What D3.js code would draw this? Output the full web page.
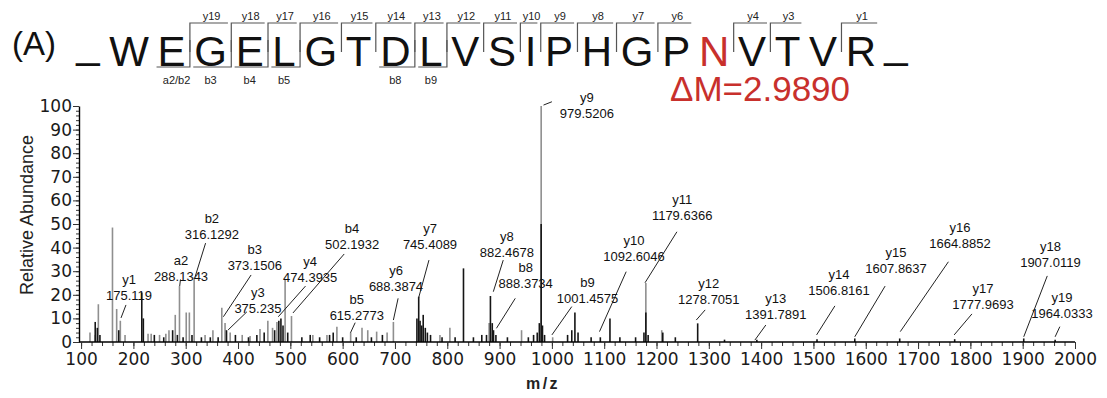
<!DOCTYPE html>
<html>
<head>
<meta charset="utf-8">
<script src="https://cdn.jsdelivr.net/npm/d3@7"></script>
<style>
  body { margin: 0; background: #fff; }
  svg { display: block; }
</style>
</head>
<body>
<svg id="chart" width="1107" height="398"></svg>
<script>
// sequence and fragment coverage
const residues = ['W', 'E', 'G', 'E', 'L', 'G', 'T', 'D', 'L', 'V', 'S', 'I', 'P', 'H', 'G', 'P', 'N', 'V', 'T', 'V', 'R'];
const modifiedIndex = 16; // the N, 0-based
const yIons = [19, 18, 17, 16, 15, 14, 13, 12, 11, 10, 9, 8, 7, 6, 4, 3, 1];
const bIons = [2, 3, 4, 5, 8, 9];
const bLabels = ['a2/b2', 'b3', 'b4', 'b5', 'b8', 'b9'];
const deltaMass = '\u0394M=2.9890';

// axes
const xTicks = d3.range(100, 2001, 100);
const xMinor = d3.range(100, 2001, 20);
const yTicks = d3.range(0, 101, 10);
const yMinor = d3.range(0, 101, 2);

// peaks [m/z, relative abundance]
const grayPeaks = [
  [117, 4], [127, 3], [133, 16], [160, 48.5], [168, 14], [175, 9], [184, 3], [228, 3.5], [234, 3.5],
  [250, 3], [262, 3.5], [268, 5], [280, 11.5], [288.1, 23.7], [301, 12.5], [307, 12.5], [316.1, 27.3],
  [337, 3], [352, 5], [369, 14.5], [375.2, 8], [385, 4], [408, 3], [423, 2.5], [442, 5.5], [457, 9],
  [466, 6], [474.4, 8.5], [490, 26.7], [502.2, 11], [543, 3], [570, 3], [589, 6.5], [615.3, 4],
  [637, 6], [648, 5], [665, 4.4], [685, 4], [697, 8.5], [786, 3], [805, 6], [880, 8], [942, 5],
  [979.5, 100], [1001.5, 2], [1179.6, 25], [1210, 5]
];
const blackPeaks = [
  [127, 8.5], [131, 6], [136, 3], [172, 5], [216, 21], [219, 10], [240, 3], [258, 2], [275, 5],
  [284, 3], [295, 2], [312, 3], [330, 2], [347, 2], [362, 2], [378, 5], [395, 3], [420, 2], [436, 3],
  [450, 4], [470, 5], [478, 9], [482, 10], [486, 7], [495, 4], [522, 2], [538, 3], [556, 2], [575, 3],
  [582, 4], [600, 2], [626, 2], [655, 2], [676, 3], [742, 10], [745.4, 19.2], [748, 9], [751, 7],
  [754, 11.5], [758, 6], [762, 4], [768, 3], [790, 2], [815, 2], [831, 31.2], [850, 2], [866, 3],
  [875, 3], [882.5, 19.5], [886, 8], [888.4, 5], [893, 3], [915, 2], [955, 2], [965, 3], [972, 4],
  [976, 8], [979.5, 50], [982, 7], [986, 3], [1030, 3], [1038, 5], [1044, 12.5], [1050, 4], [1075, 2],
  [1092.6, 2], [1111, 10], [1130, 2], [1160, 2], [1176, 4], [1179.6, 12.5], [1184, 3], [1212, 4],
  [1236, 2], [1278.7, 7.9], [1330, 1], [1391.8, 1], [1506.8, 1.2], [1579, 1.5], [1664.9, 1.5],
  [1770, 1.2], [1902, 1.5], [1962, 1]
];

// annotated ions: name, m/z text, label anchor (m/z, abundance), leader start and end (m/z, abundance)
const annotations = [
  ['y1', '175.119', 191.6, 26.3, 185.8, 15.7, 176.3, 10.2],
  ['a2', '288.1343', 291, 34.7, 290, 26.5, 288.5, 23.7],
  ['b2', '316.1292', 350, 52.5, 338, 41.9, 318, 27.7],
  ['b3', '373.1506', 432, 39.4, 425, 28.4, 372, 10.7],
  ['y3', '375.235', 438, 20.8, 417, 12.8, 381, 5.1],
  ['y4', '474.3935', 538, 34.3, 529, 23.7, 477, 10.7],
  ['b4', '502.1932', 618, 48.3, 603, 37.3, 505, 12.3],
  ['b5', '615.2773', 627, 18.2, 624, 8.2, 615, 3.9],
  ['y6', '688.3874', 702, 30.1, 706, 18.5, 697, 9.3],
  ['y7', '745.4089', 767, 48.3, 765, 34.7, 745, 18.5],
  ['y8', '882.4678', 914, 44.5, 907, 34.7, 888, 21.3],
  ['b8', '888.3734', 950, 31.4, 930, 18.5, 894, 5.8],
  ['y9', '979.5206', 1067, 103.8, 1000, 101.8, 984, 100.4],
  ['b9', '1001.4575', 1068, 25.4, 1038, 15, 1000, 3],
  ['y10', '1092.6046', 1157, 43.2, 1142, 29.8, 1091, 4.4],
  ['y11', '1179.6366', 1249, 60.2, 1239, 46.7, 1178, 25.1],
  ['y12', '1278.7051', 1300, 25, 1293, 13.6, 1276, 9.3],
  ['y13', '1391.7891', 1428, 18.6, 1409, 7.2, 1388, 0.8],
  ['y14', '1506.8161', 1549, 28.8, 1541, 15.3, 1506, 3],
  ['y15', '1607.8637', 1658, 38.1, 1637, 23.7, 1579, 2.2],
  ['y16', '1664.8852', 1780, 48.7, 1758, 34, 1666, 4.4],
  ['y17', '1777.9693', 1824, 22.5, 1803, 11.9, 1769, 3],
  ['y18', '1907.0119', 1953, 40.3, 1947, 28, 1902, 2.2],
  ['y19', '1964.0333', 1975, 19, 1971, 6.5, 1962, 2.2]
];

const svg = d3.select('#chart');
const sans = 'Liberation Sans, Arial, sans-serif';
const axisFont = 'DejaVu Sans, Verdana, sans-serif';
const red = '#c8302c';

const x = d3.scaleLinear().domain([96, 2000]).range([79, 1075]);
const y = d3.scaleLinear().domain([0, 100]).range([342, 106]);

// ---- peaks
function drawPeaks(data, color) {
  svg.append('g')
    .selectAll('line')
    .data(data)
    .enter().append('line')
    .attr('x1', d => x(d[0])).attr('x2', d => x(d[0]))
    .attr('y1', y(0)).attr('y2', d => y(d[1]))
    .attr('stroke', color)
    .attr('stroke-width', 1.6);
}
drawPeaks(grayPeaks, '#8f8f8f');
drawPeaks(blackPeaks, '#151515');

// ---- axes
const xMinorAxis = svg.append('g').attr('transform', `translate(0,${y(0)})`)
  .call(d3.axisBottom(x).tickValues(xMinor).tickSize(4).tickSizeOuter(0).tickFormat(''));
xMinorAxis.select('.domain').remove();
const xAxis = svg.append('g').attr('transform', `translate(0,${y(0)})`)
  .call(d3.axisBottom(x).tickValues(xTicks).tickSize(7).tickSizeOuter(0).tickPadding(4).tickFormat(d3.format('d')));
xAxis.select('.domain').attr('d', `M79,0H${x(2000)}`).attr('stroke-width', 1.6);
xAxis.selectAll('text').attr('font-family', axisFont).attr('font-size', 17).attr('fill', '#1a1a1a');

const yMinorAxis = svg.append('g').attr('transform', `translate(79,0)`)
  .call(d3.axisLeft(y).tickValues(yMinor).tickSize(3).tickSizeOuter(0).tickFormat(''));
yMinorAxis.select('.domain').remove();
const yAxis = svg.append('g').attr('transform', `translate(79,0)`)
  .call(d3.axisLeft(y).tickValues(yTicks).tickSize(6).tickSizeOuter(0).tickPadding(1));
yAxis.select('.domain').attr('stroke-width', 1.4);
yAxis.selectAll('text').attr('font-family', axisFont).attr('font-size', 17).attr('fill', '#1a1a1a');
svg.selectAll('.tick line').attr('stroke', '#333');

svg.append('text')
  .attr('transform', 'translate(33,215) rotate(-90)')
  .attr('text-anchor', 'middle')
  .attr('font-family', sans).attr('font-size', 18).attr('fill', '#222')
  .text('Relative Abundance');

svg.append('text')
  .attr('x', 543).attr('y', 389)
  .attr('text-anchor', 'middle')
  .attr('font-family', sans).attr('font-size', 16).attr('font-weight', 'bold')
  .attr('letter-spacing', 2.5).attr('fill', '#222')
  .text('m/z');

// ---- peak annotations
const ann = svg.append('g').attr('font-family', sans).attr('font-size', 13).attr('fill', '#111');
annotations.forEach(a => {
  const [ion, mzText, lm, la, sm, sa, em, ea] = a;
  ann.append('line')
    .attr('x1', x(sm)).attr('y1', y(sa))
    .attr('x2', x(em)).attr('y2', y(ea))
    .attr('stroke', '#222').attr('stroke-width', 1);
  ann.append('text')
    .attr('x', x(lm)).attr('y', y(la))
    .attr('text-anchor', 'middle').attr('dominant-baseline', 'central')
    .text(ion);
  ann.append('text')
    .attr('x', x(lm)).attr('y', y(la) + 16)
    .attr('text-anchor', 'middle').attr('dominant-baseline', 'central')
    .text(mzText);
});

// ---- peptide sequence with fragment brackets
svg.append('text')
  .attr('x', 12).attr('y', 55)
  .attr('font-family', sans).attr('font-size', 33).attr('fill', '#111')
  .text('(A)');

const seqFont = 42;
const seqBase = 66;
const seqG = svg.append('g').attr('font-family', sans).attr('font-size', seqFont);
const widths = residues.map(r => {
  const t = seqG.append('text').text(r);
  const w = t.node().getComputedTextLength();
  t.remove();
  return w;
});
const firstCenter = 129, lastCenter = 861;
const inner = d3.sum(widths) - (widths[0] + widths[widths.length - 1]) / 2;
const gap = (lastCenter - firstCenter - inner) / (residues.length - 1);
const centers = [];
let cx = firstCenter;
residues.forEach((r, i) => {
  if (i > 0) cx += (widths[i - 1] + widths[i]) / 2 + gap;
  centers.push(cx);
});
const gapX = k => centers[k] - widths[k] / 2 - gap / 2;

seqG.selectAll('text.res')
  .data(residues)
  .enter().append('text')
  .attr('class', 'res')
  .attr('x', (d, i) => centers[i]).attr('y', seqBase)
  .attr('text-anchor', 'middle')
  .attr('fill', (d, i) => i === modifiedIndex ? red : '#111')
  .text(d => d);

// terminal underscores
seqG.append('text').attr('x', 88).attr('y', seqBase - 8).attr('text-anchor', 'middle').attr('fill', '#111').text('_');
seqG.append('text').attr('x', 896).attr('y', seqBase - 8).attr('text-anchor', 'middle').attr('fill', '#111').text('_');

const br = svg.append('g').attr('fill', 'none').attr('stroke', '#555').attr('stroke-width', 1.2);
const brText = svg.append('g').attr('font-family', sans).attr('font-size', 11).attr('fill', '#222').attr('text-anchor', 'middle');

yIons.forEach(n => {
  const k = residues.length - n;
  const gx = gapX(k);
  br.append('path').attr('d', `M${gx},52V23H${centers[k] + widths[k] / 2 + 1}`);
  brText.append('text').attr('x', centers[k] + 1).attr('y', 20).text('y' + n);
});
bIons.forEach((n, i) => {
  const k = n - 1;
  const gx = gapX(k + 1);
  br.append('path').attr('d', `M${gx},40V67H${centers[k] - widths[k] / 2 - 1}`);
  brText.append('text').attr('x', centers[k] + (i === 0 ? 5 : 0)).attr('y', 84).text(bLabels[i]);
});

svg.append('text')
  .attr('x', 670).attr('y', 101)
  .attr('font-family', sans).attr('font-size', 35).attr('fill', red)
  .text(deltaMass);
</script>
</body>
</html>
